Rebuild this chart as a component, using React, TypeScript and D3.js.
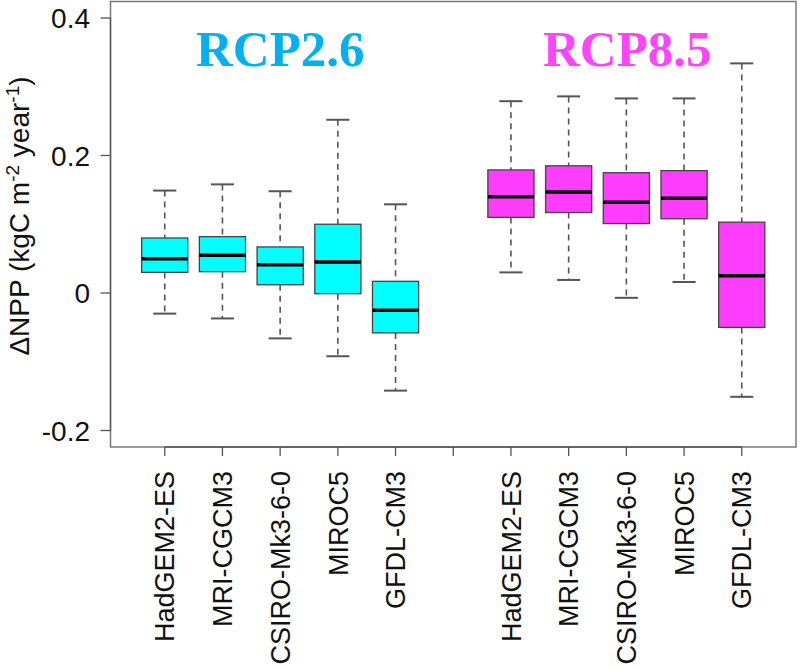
import React from "react";
import * as d3 from "d3";

const models = ["HadGEM2-ES", "MRI-CGCM3", "CSIRO-Mk3-6-0", "MIROC5", "GFDL-CM3"];
const scenarios = ["RCP2.6", "RCP8.5"];

const rcp26Low = [-0.030, -0.037, -0.066, -0.092, -0.142];
const rcp26Q1 = [0.030, 0.031, 0.012, -0.001, -0.058];
const rcp26Med = [0.050, 0.055, 0.041, 0.045, -0.025];
const rcp26Q3 = [0.080, 0.082, 0.067, 0.100, 0.017];
const rcp26High = [0.149, 0.158, 0.148, 0.252, 0.129];

const rcp85Low = [0.030, 0.019, -0.007, 0.016, -0.151];
const rcp85Q1 = [0.110, 0.117, 0.101, 0.108, -0.050];
const rcp85Med = [0.140, 0.147, 0.132, 0.138, 0.025];
const rcp85Q3 = [0.179, 0.185, 0.175, 0.178, 0.103];
const rcp85High = [0.279, 0.286, 0.283, 0.283, 0.334];

const yTicks = [-0.2, 0, 0.2, 0.4];
const yTickLabels = ["-0.2", "0", "0.2", "0.4"];

const boxFill = ["#00ffff", "#ff3dff"];
const titleFill = ["#00b0f0", "#ff44ff"];

type Box = { pos: number; label: string; low: number; q1: number; med: number; q3: number; high: number; group: number };

const boxes: Box[] = [];
models.forEach((m, i) => {
  boxes.push({ pos: i + 1, label: m, low: rcp26Low[i], q1: rcp26Q1[i], med: rcp26Med[i], q3: rcp26Q3[i], high: rcp26High[i], group: 0 });
});
models.forEach((m, i) => {
  boxes.push({ pos: i + 7, label: m, low: rcp85Low[i], q1: rcp85Q1[i], med: rcp85Med[i], q3: rcp85Q3[i], high: rcp85High[i], group: 1 });
});

export default function App() {
  const x = d3.scaleLinear().domain([0.06, 11.94]).range([110.5, 796]);
  const y = d3.scaleLinear().domain([-0.224, 0.424]).range([447, 1.5]);
  const unit = x(2) - x(1);
  const bw = unit * 0.8;
  const cw = bw * 0.5;
  const tickPositions = d3.range(1, 12);

  return (
    <svg width={800} height={669} style={{ position: "absolute", left: 0, top: 0, background: "#fff" }}
      fontFamily="'Liberation Sans', Arial, sans-serif">
      {/* frame */}
      <rect x={x(0.06)} y={y(0.424)} width={x(11.94) - x(0.06)} height={y(-0.224) - y(0.424)}
        fill="none" stroke="#7a7a7a" strokeWidth={1.5} />
      {/* y axis */}
      <line x1={x(0.06)} x2={x(0.06)} y1={y(-0.2)} y2={y(0.4)} stroke="#555" strokeWidth={1.3} />
      {yTicks.map((t, i) => (
        <g key={"yt" + i}>
          <line x1={x(0.06) - 10} x2={x(0.06)} y1={y(t)} y2={y(t)} stroke="#555" strokeWidth={1.3} />
          <text x={90} y={y(t)} dy="0.36em" textAnchor="end" fontSize={28} fill="#111">{yTickLabels[i]}</text>
        </g>
      ))}
      {/* x axis */}
      <line x1={x(1)} x2={x(11)} y1={y(-0.224)} y2={y(-0.224)} stroke="#555" strokeWidth={1.3} />
      {tickPositions.map((p) => (
        <line key={"xt" + p} x1={x(p)} x2={x(p)} y1={y(-0.224)} y2={y(-0.224) + 9} stroke="#555" strokeWidth={1.3} />
      ))}
      {boxes.map((b) => (
        <text key={"xl" + b.pos} transform={`translate(${x(b.pos)},471) rotate(-90)`} dy="0.36em"
          textAnchor="end" fontSize={27} fill="#111">{b.label}</text>
      ))}
      {/* y label */}
      <text transform="translate(29,216) rotate(-90)" textAnchor="middle" fontSize={28} fill="#111">
        ΔNPP (kgC m<tspan dy={-10} fontSize={19}>-2</tspan><tspan dy={10}> year</tspan><tspan dy={-10} fontSize={19}>-1</tspan><tspan dy={10}>)</tspan>
      </text>
      {/* boxes */}
      {boxes.map((b) => {
        const cx = x(b.pos);
        return (
          <g key={"b" + b.pos}>
            <line x1={cx} x2={cx} y1={y(b.high)} y2={y(b.q3)} stroke="#555" strokeWidth={1.6} strokeDasharray="6,5" />
            <line x1={cx} x2={cx} y1={y(b.q1)} y2={y(b.low)} stroke="#555" strokeWidth={1.6} strokeDasharray="6,5" />
            <line x1={cx - cw / 2} x2={cx + cw / 2} y1={y(b.high)} y2={y(b.high)} stroke="#555" strokeWidth={2} />
            <line x1={cx - cw / 2} x2={cx + cw / 2} y1={y(b.low)} y2={y(b.low)} stroke="#555" strokeWidth={2} />
            <rect x={cx - bw / 2} y={y(b.q3)} width={bw} height={y(b.q1) - y(b.q3)}
              fill={boxFill[b.group]} stroke="#444" strokeWidth={1.3} />
            <line x1={cx - bw / 2} x2={cx + bw / 2} y1={y(b.med)} y2={y(b.med)} stroke="#000" strokeWidth={3.5} />
          </g>
        );
      })}
      {/* scenario titles */}
      <text x={196} y={66} fontFamily="'Liberation Serif', 'DejaVu Serif', serif" fontWeight="bold" fontSize={51}
        fill={titleFill[0]}>{scenarios[0]}</text>
      <text x={543} y={66} fontFamily="'Liberation Serif', 'DejaVu Serif', serif" fontWeight="bold" fontSize={51}
        fill={titleFill[1]}>{scenarios[1]}</text>
    </svg>
  );
}
